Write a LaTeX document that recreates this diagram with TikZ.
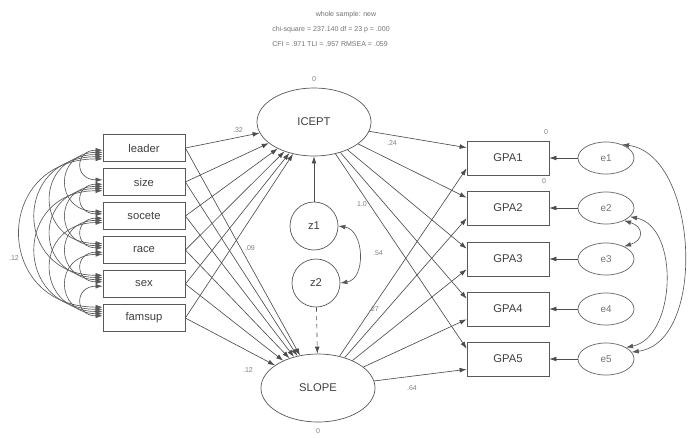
\documentclass[tikz,border=0pt]{standalone}
\usepackage{fontspec}
\setmainfont{Liberation Sans}
\usetikzlibrary{arrows.meta,shapes.geometric}
\begin{document}
\begin{tikzpicture}[x=0.025cm,y=-0.025cm,
  every node/.style={font=\footnotesize, text=black!75},
  obsL/.style={draw=black!65, line width=0.5pt, inner sep=0pt, minimum width=2.05cm, minimum height=0.675cm},
  obsR/.style={draw=black!65, line width=0.5pt, inner sep=0pt, minimum width=2.05cm, minimum height=0.85cm},
  lat/.style={ellipse, draw=black!65, line width=0.5pt, inner sep=0pt, minimum width=2.85cm, minimum height=1.7cm},
  err/.style={ellipse, draw=black!60, line width=0.5pt, inner sep=0pt, minimum width=1.4cm, minimum height=0.8cm, font=\scriptsize, text=black!55},
  dist/.style={circle, draw=black!65, line width=0.5pt, inner sep=0pt, minimum size=1.2cm},
  path/.style={draw=black!70, line width=0.45pt, -{Latex[length=5pt,width=3.4pt]}},
  cov/.style={draw=black!65, line width=0.45pt, {Latex[length=5pt,width=3.4pt]}-{Latex[length=5pt,width=3.4pt]}},
  hdr/.style={font=\tiny, text=black!55},
  lab/.style={font=\tiny, text=black!50, inner sep=1pt}
]
\path[use as bounding box, fill=white] (0,0) rectangle (692,437);

% header
\node[hdr] (h1) at (346,15) {whole sample: new};
\node[hdr] (h2) at (331,30) {chi-square = 237.140 df = 23 p = .000};
\node[hdr] (h3) at (330,44) {CFI = .971 TLI = .957 RMSEA = .059};

% left observed variables
\node[obsL] (b1) at (144,148) {leader};
\node[obsL] (b2) at (144,182) {size};
\node[obsL] (b3) at (144,216) {socete};
\node[obsL] (b4) at (144,250) {race};
\node[obsL] (b5) at (144,284) {sex};
\node[obsL] (b6) at (144,318) {famsup};

% latent growth factors
\node[lat] (icept) at (314,122) {ICEPT};
\node[lat] (slope) at (318,388) {SLOPE};
\node[dist] (z1) at (314,226) {z1};
\node[dist] (z2) at (316,283) {z2};

% GPA indicators and errors
\foreach \i/\y in {1/158,2/208,3/259,4/309,5/359}{
  \node[obsR] (g\i) at (508,\y) {GPA\i};
  \node[err] (e\i) at (606,\y) {e\i};
}

% covariances among exogenous variables
\foreach \i in {1,...,5}{
  \pgfmathtruncatemacro\s{\i+1}
  \foreach \j in {\s,...,6}{
    \pgfmathsetmacro\o{1.55*(\j-\i)}
    \pgfmathsetmacro\k{20.4*(\j-\i)+8}
    \draw[cov] ([yshift=-\o pt]b\i.west) .. controls +(-\k,0) and +(-\k,0) .. ([yshift=\o pt]b\j.west);
  }
}

% regressions on growth factors
\foreach \i in {1,...,6}{
  \draw[path] (b\i.east) -- (icept);
  \draw[path] (b\i.east) -- (slope);
}
\draw[path] (z1) -- (icept);
\draw[path, dashed] (z2) -- (slope);
\draw[cov] (z1.east) .. controls +(26,4) and +(26,-4) .. (z2.east);

% loadings
\foreach \i in {1,...,5}{
  \draw[path] (icept) -- (g\i.166);
  \draw[path] (slope) -- (g\i.194);
  \draw[path] (e\i) -- (g\i);
}

% error covariances
\draw[cov] (e1.40) .. controls +(76,10) and +(76,-10) .. (e5.15);
\draw[cov] (e2.-20) .. controls +(50,10) and +(50,-10) .. (e5.30);
\draw[cov] (e2.-35) .. controls +(20,6) and +(20,-6) .. (e3.35);

% small estimates
\node[lab] (l1) at (314,79) {0};
\node[lab] (l2) at (318,431) {0};
\node[lab] (l3) at (238,130) {.32};
\node[lab] (l4) at (392,143) {.24};
\node[lab] (l5) at (362,204) {1.0};
\node[lab] (l6) at (250,248) {.09};
\node[lab] (l7) at (378,253) {.54};
\node[lab] (l8) at (374,309) {.27};
\node[lab] (l9) at (248,370) {.12};
\node[lab] (l10) at (412,388) {.64};
\node[lab] (l11) at (14,258) {.12};
\node[lab] (l12) at (546,132) {0};
\node[lab] (l13) at (544,181) {0};
\end{tikzpicture}
\end{document}
